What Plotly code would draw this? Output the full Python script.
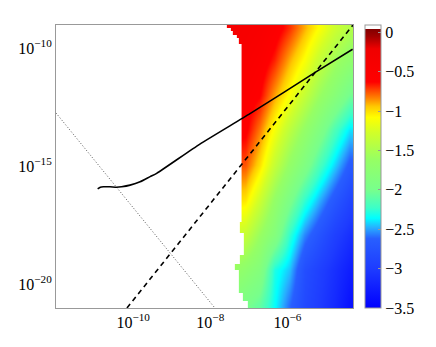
import plotly.graph_objects as go

x_cells = [-7.49, -7.10, -6.72, -6.33, -5.94, -5.55, -5.16, -4.77, -4.38]
y_cells = [-9.13, -10.48, -11.97, -13.45, -14.94, -16.42, -17.91, -19.39, -20.87]
z_vals = [
    [-0.35, -0.40, -0.45, -0.55, -0.70, -0.90, -1.10, -1.30, -1.45],
    [-0.42, -0.46, -0.53, -0.68, -0.90, -1.10, -1.35, -1.55, -1.70],
    [-0.50, -0.54, -0.62, -0.88, -1.10, -1.35, -1.60, -1.80, -2.02],
    [-0.56, -0.60, -0.82, -1.12, -1.40, -1.65, -1.90, -2.17, -2.40],
    [-0.72, -0.76, -1.00, -1.35, -1.65, -1.90, -2.18, -2.42, -2.66],
    [-0.98, -1.02, -1.30, -1.65, -1.95, -2.25, -2.48, -2.70, -2.90],
    [-1.28, -1.35, -1.60, -1.85, -2.25, -2.55, -2.75, -2.95, -3.10],
    [-1.60, -1.72, -1.85, -2.30, -2.45, -2.80, -2.95, -3.10, -3.25],
    [-1.88, -1.98, -2.08, -2.35, -2.60, -2.85, -3.00, -3.15, -3.35],
]

# white (no data) region left of the coloured block
mask_x = [-7.80, -7.57, -7.57, -7.466, -7.466, -7.415, -7.415, -7.311, -7.311, -7.259,
          -7.259, -7.189, -7.189, -7.233, -7.233, -7.130, -7.130, -7.233, -7.233, -7.363,
          -7.363, -7.259, -7.259, -7.155, -7.155, -7.026, -7.026, -7.80]
mask_y = [-9.0, -9.0, -9.127, -9.127, -9.254, -9.254, -9.424, -9.424, -9.551, -9.551,
          -9.806, -9.806, -17.354, -17.354, -17.821, -17.821, -18.754, -18.754, -19.136, -19.136,
          -19.390, -19.390, -20.366, -20.366, -20.705, -20.705, -21.0, -21.0]

# curves (log10 units)
solid_x = [-10.92, -10.85, -10.77, -10.60, -10.43, -10.30, -10.08, -9.82, -9.56, -9.39, -8.27, -6.97, -5.25, -4.31]
solid_y = [-15.95, -15.88, -15.86, -15.86, -15.88, -15.86, -15.79, -15.65, -15.43, -15.29, -14.05, -12.76, -10.98, -10.03]
dash_x = [-10.16, -4.30]
dash_y = [-21.0, -9.0]
dot_x = [-12.0, -7.88]
dot_y = [-12.73, -21.0]

cb_ticks = [0, -0.5, -1, -1.5, -2, -2.5, -3, -3.5]
x_ticks = [-10, -8, -6]
y_ticks = [-20, -15, -10]

zmin, zmax = -3.5, 0.093

def nrm(v):
    return (v - zmin) / (zmax - zmin)

colorscale = [
    [nrm(-3.5), 'rgb(0,0,255)'],
    [nrm(-3.0), 'rgb(30,60,255)'],
    [nrm(-2.62), 'rgb(40,95,255)'],
    [nrm(-2.48), 'rgb(40,175,255)'],
    [nrm(-2.36), 'rgb(0,255,255)'],
    [nrm(-2.23), 'rgb(60,255,200)'],
    [nrm(-2.0), 'rgb(120,255,140)'],
    [nrm(-1.62), 'rgb(150,255,100)'],
    [nrm(-1.27), 'rgb(210,255,40)'],
    [nrm(-1.08), 'rgb(255,255,0)'],
    [nrm(-0.94), 'rgb(255,200,0)'],
    [nrm(-0.85), 'rgb(255,140,0)'],
    [nrm(-0.72), 'rgb(255,60,0)'],
    [nrm(-0.63), 'rgb(255,0,0)'],
    [nrm(-0.21), 'rgb(240,0,0)'],
    [nrm(-0.05), 'rgb(160,0,0)'],
    [nrm(0.04), 'rgb(130,0,0)'],
    [nrm(0.045), 'rgb(255,255,255)'],
    [1.0, 'rgb(255,255,255)'],
]

font = dict(family='Liberation Serif', size=16, color='black')

fig = go.Figure()
fig.add_trace(go.Heatmap(
    x=x_cells, y=y_cells, z=z_vals, zmin=zmin, zmax=zmax,
    colorscale=colorscale, zsmooth='best',
    colorbar=dict(
        x=1.0404, xanchor='left', xpad=0, y=0.5, yanchor='middle', ypad=0,
        len=1.0, thickness=16, outlinecolor='#999', outlinewidth=1,
        tickvals=cb_ticks,
        ticktext=[('−' if t < 0 else '') + ('%g' % abs(t)) for t in cb_ticks],
        ticks='inside', ticklen=3, tickcolor='#999', tickfont=font,
    ),
    hoverinfo='skip',
))
fig.add_trace(go.Scatter(x=mask_x, y=mask_y, mode='lines', fill='toself',
                         fillcolor='white', line=dict(width=0, color='white'),
                         hoverinfo='skip'))
fig.add_trace(go.Scatter(x=dot_x, y=dot_y, mode='lines',
                         line=dict(color='#555', width=1, dash='1px,2px')))
fig.add_trace(go.Scatter(x=dash_x, y=dash_y, mode='lines',
                         line=dict(color='black', width=1.6, dash='5px,4px')))
fig.add_trace(go.Scatter(x=solid_x, y=solid_y, mode='lines',
                         line=dict(color='black', width=1.6, shape='spline', smoothing=0.5)))

fig.update_layout(
    width=436, height=347,
    margin=dict(l=56, r=83, t=25, b=39),
    paper_bgcolor='white', plot_bgcolor='white',
    showlegend=False, font=font,
)
fig.update_xaxes(range=[-12, -4.3], tickvals=x_ticks,
                 ticktext=['10<sup>−%d</sup>' % abs(t) for t in x_ticks],
                 showgrid=False, zeroline=False, showline=True, linecolor='#999',
                 linewidth=1, mirror=True, ticks='', tickfont=font)
fig.update_yaxes(range=[-21, -9], tickvals=y_ticks,
                 ticktext=['10<sup>−%d</sup>' % abs(t) for t in y_ticks],
                 showgrid=False, zeroline=False, showline=True, linecolor='#999',
                 linewidth=1, mirror=True, ticks='', tickfont=font)

fig.write_html("out.html", config={'displayModeBar': False},
               post_script="document.body.style.margin='0';")
